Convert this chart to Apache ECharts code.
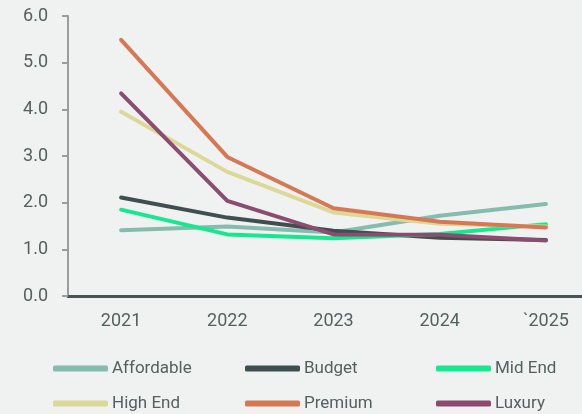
<!DOCTYPE html>
<html><head><meta charset="utf-8">
<script src="https://cdn.jsdelivr.net/npm/echarts@6/dist/echarts.min.js"></script>
<style>html,body{margin:0;padding:0;background:#eff2f1;}#c{width:582px;height:414px;}</style>
</head><body><div id="c"></div>
<script>
const categories = ['2021', '2022', '2023', '2024', '`2025'];
const affordable = [1.41, 1.49, 1.36, 1.72, 1.97];
const budget     = [2.11, 1.68, 1.40, 1.25, 1.20];
const midEnd     = [1.85, 1.32, 1.24, 1.33, 1.54];
const highEnd    = [3.95, 2.66, 1.79, 1.55, 1.49];
const premium    = [5.49, 2.98, 1.88, 1.59, 1.47];
const luxury     = [4.34, 2.04, 1.32, 1.31, 1.19];
const seriesNames = ['Affordable', 'Budget', 'Mid End', 'High End', 'Premium', 'Luxury'];
const seriesData = [affordable, budget, midEnd, highEnd, premium, luxury];
const colors = ['#86bcad', '#3f4f4f', '#17e88f', '#dcd897', '#d57853', '#8b4c70'];

const font = 'Roboto, "Noto Sans", sans-serif';
const textColor = '#56605f';
const legendPos = [[53, 360], [245, 360], [436, 360], [53, 395], [245, 395], [436, 395]];

const chart = echarts.init(document.getElementById('c'));
chart.setOption({
  backgroundColor: '#eff2f1',
  animation: false,
  color: colors,
  grid: { left: 68, width: 531, top: 16, bottom: 118, containLabel: false, outerBoundsMode: 'none' },
  xAxis: {
    type: 'category', data: categories, boundaryGap: true,
    axisLine: { lineStyle: { color: '#485453', width: 3 } },
    axisTick: { show: false },
    axisLabel: { color: textColor, fontSize: 18, fontFamily: font, margin: 16 }
  },
  yAxis: {
    type: 'value', min: 0, max: 6, interval: 1,
    axisLine: { show: true, lineStyle: { color: '#9a9d9c', width: 2 } },
    axisTick: { show: true, length: 6, lineStyle: { color: '#9a9d9c', width: 2 } },
    splitLine: { show: false },
    axisLabel: { color: textColor, fontSize: 18, fontFamily: font, margin: 20,
      formatter: v => v.toFixed(1) }
  },
  legend: seriesNames.map((n, i) => ({
    data: [n], left: legendPos[i][0], top: legendPos[i][1],
    itemWidth: 55, itemHeight: 6, itemGap: 0, icon: 'roundRect', padding: 0,
    textStyle: { color: textColor, fontSize: 17, fontFamily: font, padding: [0, 0, 0, -1] }
  })),
  series: seriesNames.map((n, i) => ({
    name: n, type: 'line', data: seriesData[i], symbol: 'none',
    lineStyle: { width: 4, color: colors[i], cap: 'round', join: 'round' },
    itemStyle: { color: colors[i] }
  }))
});
</script></body></html>
